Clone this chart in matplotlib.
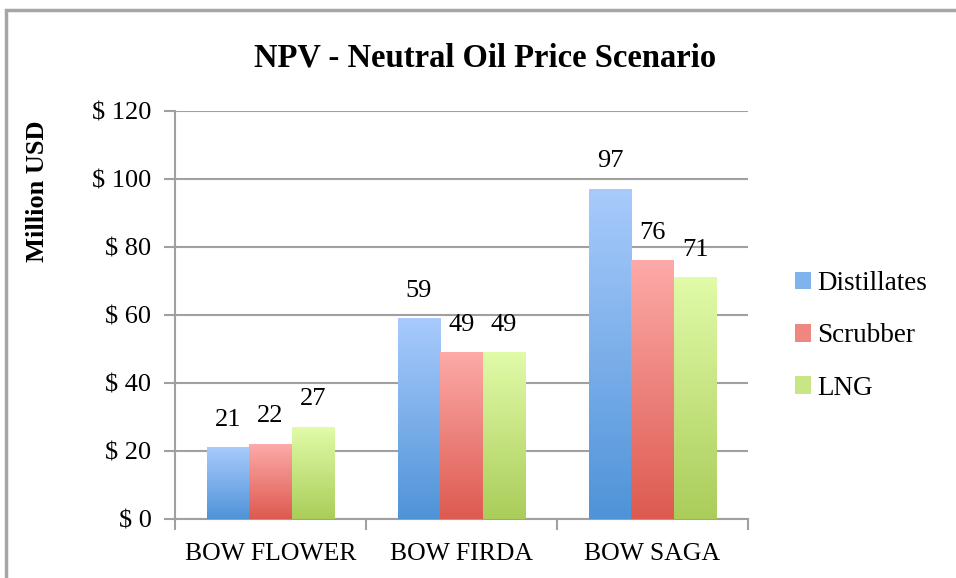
import numpy as np
import matplotlib
matplotlib.use('Agg')
from matplotlib import pyplot as plt
from matplotlib.colors import LinearSegmentedColormap
from matplotlib.patches import Rectangle

plt.rcParams['font.family'] = ['Liberation Serif', 'DejaVu Serif']

ships = ['BOW FLOWER', 'BOW FIRDA', 'BOW SAGA']
series = ['Distillates', 'Scrubber', 'LNG']
distillates = [21, 59, 97]
scrubber = [22, 49, 76]
lng = [27, 49, 71]
yticks = [0, 20, 40, 60, 80, 100, 120]

# gradient colours (bottom, top) for each series
grads = [('#4f93d8', '#a8cbfc'), ('#dd5a50', '#fdaaa8'), ('#aacd5a', '#e1fba8')]

fig = plt.figure(figsize=(9.56, 5.78), dpi=100)
ax = fig.add_axes([175/956, 59/578, 573/956, 408/578])

# outer frame of chart area
fig.patches.append(Rectangle((6/956, -0.1), 1.2, 1 - 10/578 + 0.1, transform=fig.transFigure,
                             fill=False, edgecolor='#a6a6a6', linewidth=2.5))

bw = 0.223
x = np.arange(len(ships))
for i, (vals, (c0, c1)) in enumerate(zip([distillates, scrubber, lng], grads)):
    cmap = LinearSegmentedColormap.from_list('g%d' % i, [c0, c1])
    grad = np.linspace(1, 0, 256).reshape(-1, 1)
    for xi, v in zip(x, vals):
        left = xi + (i - 1) * bw - bw / 2
        ax.imshow(grad, cmap=cmap, aspect='auto', extent=[left, left + bw, 0, v],
                  zorder=3, interpolation='bicubic')
        ax.annotate(str(v), (left + bw / 2, v), xytext=(0, 20), textcoords='offset points',
                    ha='center', va='center', fontsize=19, zorder=4)
    ax.bar([0], [0], color=cmap(0.55), label=series[i])

ax.set_xlim(-0.5, 2.5)
ax.set_ylim(0, 120)
ax.set_yticks(yticks)
ax.set_yticklabels(['$ %d' % t for t in yticks], fontsize=19)
ax.set_xticks(x)
ax.set_xticklabels(ships, fontsize=18.5)
ax.set_xticks([-0.5, 0.5, 1.5, 2.5], minor=True)
ax.tick_params(axis='x', which='major', length=0, pad=17)
ax.tick_params(axis='x', which='minor', length=8, color='#a0a0a0', width=1.5)
ax.tick_params(axis='y', length=8, color='#a0a0a0', width=1.5, pad=9)
ax.grid(axis='y', color='#a0a0a0', linewidth=1.5, zorder=0)
ax.set_axisbelow(True)
for s in ['top', 'right']:
    ax.spines[s].set_visible(False)
for s in ['left', 'bottom']:
    ax.spines[s].set_color('#a0a0a0')
    ax.spines[s].set_linewidth(1.5)

fig.text(485/956, 1 - 58/578, 'NPV - Neutral Oil Price Scenario', ha='center', va='center',
         fontsize=23.5, fontweight='bold')
fig.text(37/956, 1 - 191/578, 'Million USD', rotation=90, ha='center', va='center',
         fontsize=19, fontweight='bold')

fig.legend(loc='center left', bbox_to_anchor=(781/956, 1 - 336/578), frameon=False,
           fontsize=19.5, handlelength=0.6, handleheight=0.6, handletextpad=0.25,
           labelspacing=1.0, borderpad=0)

fig.savefig('out.png', dpi=100)
